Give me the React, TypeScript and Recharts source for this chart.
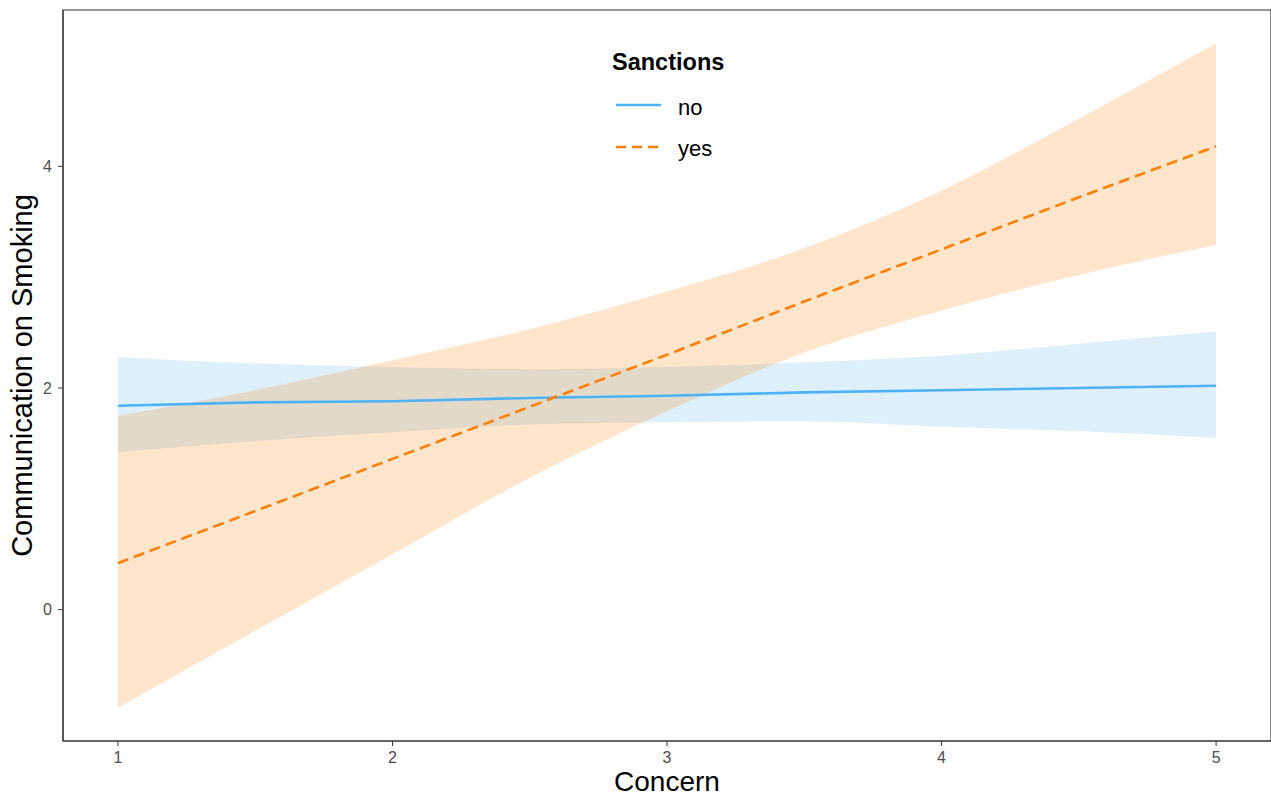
import { ComposedChart, Area, Line, XAxis, YAxis, ReferenceArea } from 'recharts';

// values (Concern x Sanctions)
const concern = [1, 1.5, 2, 2.5, 3, 3.5, 4, 4.5, 5];

const noFit = [1.84, 1.87, 1.88, 1.91, 1.93, 1.96, 1.98, 2.0, 2.02];
const noLower = [1.42, 1.52, 1.6, 1.67, 1.69, 1.7, 1.65, 1.61, 1.55];
const noUpper = [2.28, 2.22, 2.19, 2.17, 2.19, 2.23, 2.29, 2.4, 2.51];

const yesFit = [0.42, 0.89, 1.36, 1.83, 2.3, 2.78, 3.25, 3.72, 4.18];
const yesLower = [-0.885, -0.19, 0.5, 1.19, 1.79, 2.32, 2.7, 3.02, 3.29];
const yesUpper = [1.75, 1.98, 2.25, 2.53, 2.87, 3.26, 3.78, 4.43, 5.11];

const xTicks = [1, 2, 3, 4, 5];
const yTicks = [0, 2, 4];

const BLUE = '#56B4E9';
const BLUE_LINE = '#4DB3F7';
const ORANGE = '#FF7F00';

const data = concern.map((x, i) => ({
    x,
    noFit: noFit[i],
    noBand: [noLower[i], noUpper[i]],
    yesFit: yesFit[i],
    yesBand: [yesLower[i], yesUpper[i]],
}));

const font = '"Liberation Sans", Arial, sans-serif';

// legend sits inside the panel, drawn as an overlay so it doesn't eat plot space
function SanctionsLegend() {
    return (
        <svg width={180} height={130} style={{ fontFamily: font, position: 'absolute', left: 600, top: 40 }}>
            <text x={12} y={30} fontSize={23.5} fontWeight="bold" fill="#000">Sanctions</text>
            <line x1={16} x2={61} y1={65} y2={65} stroke={BLUE_LINE} strokeWidth={2.6} />
            <text x={78} y={75} fontSize={22} fill="#000">no</text>
            <line x1={16} x2={61} y1={107} y2={107} stroke={ORANGE} strokeWidth={2.6} strokeDasharray="10 6" />
            <text x={78} y={116} fontSize={22} fill="#000">yes</text>
        </svg>
    );
}

export default function App() {
    return (
        <div style={{ position: 'absolute', left: 0, top: 0, width: 1271, height: 798, background: '#fff' }}>
            <ComposedChart
                width={1271}
                height={798}
                data={data}
                margin={{ top: 10, right: 0, left: 0, bottom: 0 }}
                style={{ fontFamily: font }}
            >
                <XAxis
                    type="number"
                    dataKey="x"
                    domain={[0.8, 5.2]}
                    ticks={xTicks}
                    allowDataOverflow
                    height={57}
                    tickSize={5}
                    tickMargin={6}
                    stroke="#333"
                    tick={{ fontSize: 16, fill: '#4d4d4d' }}
                    label={{ value: 'Concern', position: 'insideBottom', offset: 7, fontSize: 28, fill: '#000' }}
                />
                <YAxis
                    type="number"
                    domain={[-1.185, 5.41]}
                    ticks={yTicks}
                    allowDataOverflow
                    width={63}
                    tickSize={5}
                    tickMargin={6}
                    stroke="#333"
                    tick={{ fontSize: 16, fill: '#4d4d4d' }}
                    label={{
                        value: 'Communication on Smoking',
                        angle: -90,
                        position: 'insideLeft',
                        offset: 22,
                        fontSize: 29,
                        fill: '#000',
                        style: { textAnchor: 'middle' },
                    }}
                />
                <ReferenceArea x1={0.8} x2={5.2} y1={-1.185} y2={5.41} fill="none" stroke="#333" strokeWidth={1.2} />
                <Area
                    type="monotone"
                    dataKey="noBand"
                    stroke="none"
                    fill={BLUE}
                    fillOpacity={0.2}
                    isAnimationActive={false}
                />
                <Line
                    type="linear"
                    dataKey="noFit"
                    stroke={BLUE_LINE}
                    strokeWidth={2.6}
                    dot={false}
                    activeDot={false}
                    isAnimationActive={false}
                />
                <Area
                    type="monotone"
                    dataKey="yesBand"
                    stroke="none"
                    fill={ORANGE}
                    fillOpacity={0.2}
                    isAnimationActive={false}
                />
                <Line
                    type="linear"
                    dataKey="yesFit"
                    stroke={ORANGE}
                    strokeWidth={2.6}
                    strokeDasharray="11 6"
                    dot={false}
                    activeDot={false}
                    isAnimationActive={false}
                />
            </ComposedChart>
            <SanctionsLegend />
        </div>
    );
}
